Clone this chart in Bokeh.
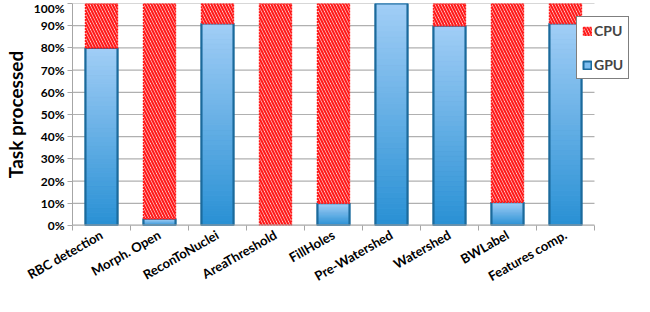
from bokeh.plotting import figure
from bokeh.models import (ColumnDataSource, FixedTicker, NumeralTickFormatter,
                          Range1d, Legend, LegendItem)
from bokeh.embed import file_html
from bokeh.resources import INLINE

categories = ["RBC detection", "Morph. Open", "ReconToNuclei", "AreaThreshold",
              "FillHoles", "Pre-Watershed", "Watershed", "BWLabel", "Features comp."]
gpu_pct = [80, 3, 91, 0, 10, 100, 90, 10.5, 91]
cpu_pct = [20, 97, 9, 100, 90, 0, 10, 89.5, 9]
y_ticks = [0, 0.1, 0.2, 0.3, 0.4, 0.5, 0.6, 0.7, 0.8, 0.9, 1.0]

FONT = "Lato"
BAR_W = 0.55
N_SLICES = 40
TOP_RGB = (0xA2, 0xCE, 0xF6)
BOT_RGB = (0x28, 0x90, 0xD4)
X_PAD = 0.69   # extra room right of the last category for the legend
GRID = "#b0b0b0"
AXIS = "#a6a6a6"

def lerp_hex(t):
    r, g, b = (int(round(BOT_RGB[k] + (TOP_RGB[k] - BOT_RGB[k]) * t)) for k in range(3))
    return "#%02x%02x%02x" % (r, g, b)

n = len(categories)
centers = [i + 0.5 for i in range(n)]
gpu = [v / 100 for v in gpu_pct]
cpu = [v / 100 for v in cpu_pct]

p = figure(width=634, height=296, output_backend="svg", toolbar_location=None,
           x_range=Range1d(0, n + X_PAD), y_range=Range1d(0, 1),
           min_border_left=59, min_border_right=0, min_border_top=3,
           min_border_bottom=71)
p.outline_line_color = None
p.background_fill_color = "white"
p.xgrid.grid_line_color = None
p.ygrid.grid_line_color = None

# horizontal gridlines limited to the category span
p.segment(x0=[0] * len(y_ticks), x1=[n] * len(y_ticks), y0=y_ticks, y1=y_ticks,
          line_color=GRID, line_width=1.2)

gsrc = ColumnDataSource(dict(
    left=[c - BAR_W / 2 for c, v in zip(centers, gpu) if v > 0],
    right=[c + BAR_W / 2 for c, v in zip(centers, gpu) if v > 0],
    top=[v for v in gpu if v > 0]))

# GPU base bars (plain fill, used for the legend swatch; covered by the gradient)
gpu_base = p.quad(left="left", right="right", bottom=0, top="top", source=gsrc,
                  fill_color="#7dbdf0", line_color="#1b6a9c", line_width=2)

# gradient slices for GPU bars
gx, gb, gt, gc = [], [], [], []
for c, v in zip(centers, gpu):
    if v <= 0:
        continue
    for k in range(N_SLICES):
        gx.append(c)
        gb.append(v * k / N_SLICES)
        gt.append(v * (k + 1) / N_SLICES)
        gc.append(lerp_hex((k + 0.5) / N_SLICES))
p.quad(left=[x - BAR_W / 2 for x in gx], right=[x + BAR_W / 2 for x in gx],
       bottom=gb, top=gt, fill_color=gc, line_color=gc, line_width=0.8)

# GPU outline
p.quad(left="left", right="right", bottom=0, top="top", source=gsrc,
       fill_color=None, line_color="#1b6a9c", line_width=2)

# CPU hatched
csrc = ColumnDataSource(dict(
    left=[c - BAR_W / 2 for c, v in zip(centers, cpu) if v > 0],
    right=[c + BAR_W / 2 for c, v in zip(centers, cpu) if v > 0],
    bottom=[g for g, v in zip(gpu, cpu) if v > 0],
    top=[g + v for g, v in zip(gpu, cpu) if v > 0]))
cpu_r = p.quad(left="left", right="right", bottom="bottom", top="top", source=csrc,
               fill_color="white", hatch_pattern="\\", hatch_color="#ff1a1a",
               hatch_scale=6, hatch_weight=2.2, line_color="#ff1a1a",
               line_width=1.5, line_dash="2 1")

# x axis line limited to the category span
p.segment(x0=[0], x1=[n], y0=[0], y1=[0], line_color=AXIS, line_width=2)

legend = Legend(items=[LegendItem(label="CPU", renderers=[cpu_r]),
                       LegendItem(label="GPU", renderers=[gpu_base])],
                location=(504, 146))
legend.margin = 0
legend.label_text_font = FONT
legend.label_text_font_style = "bold"
legend.label_text_font_size = "14px"
legend.glyph_width = 10
legend.glyph_height = 10
legend.label_standoff = 2
legend.spacing = 17
legend.padding = 5
legend.border_line_color = "black"
legend.border_line_width = 1.5
legend.background_fill_alpha = 1
p.add_layout(legend, "center")

# y axis
p.yaxis.ticker = FixedTicker(ticks=y_ticks)
p.yaxis.formatter = NumeralTickFormatter(format="0%")
p.yaxis.major_label_text_font = FONT
p.yaxis.major_label_text_font_style = "bold"
p.yaxis.major_label_text_font_size = "12px"
p.yaxis.major_label_text_color = "black"
p.yaxis.axis_line_color = AXIS
p.yaxis.major_tick_line_color = AXIS
p.yaxis.major_tick_out = 5
p.yaxis.major_tick_in = 0
p.yaxis.minor_tick_line_color = None
p.yaxis.axis_label = "Task processed"
p.yaxis.axis_label_text_font = FONT
p.yaxis.axis_label_text_font_style = "bold"
p.yaxis.axis_label_text_font_size = "19px"
p.yaxis.axis_label_text_color = "black"
p.yaxis.axis_label_standoff = 4
p.yaxis.major_label_standoff = 3

# x axis
p.xaxis.ticker = FixedTicker(ticks=centers, minor_ticks=list(range(n + 1)))
p.xaxis.major_label_overrides = {c: name for c, name in zip(centers, categories)}
p.xaxis.major_label_orientation = 0.52
p.xaxis.major_label_text_font = FONT
p.xaxis.major_label_text_font_style = "bold"
p.xaxis.major_label_text_font_size = "13px"
p.xaxis.major_label_text_color = "black"
p.xaxis.major_tick_line_color = None
p.xaxis.major_tick_out = 0
p.xaxis.major_tick_in = 0
p.xaxis.minor_tick_line_color = AXIS
p.xaxis.minor_tick_out = 5
p.xaxis.minor_tick_in = 0
p.xaxis.axis_line_color = None
p.xaxis.major_label_standoff = 3

open("out.html", "w").write(file_html(p, INLINE))
